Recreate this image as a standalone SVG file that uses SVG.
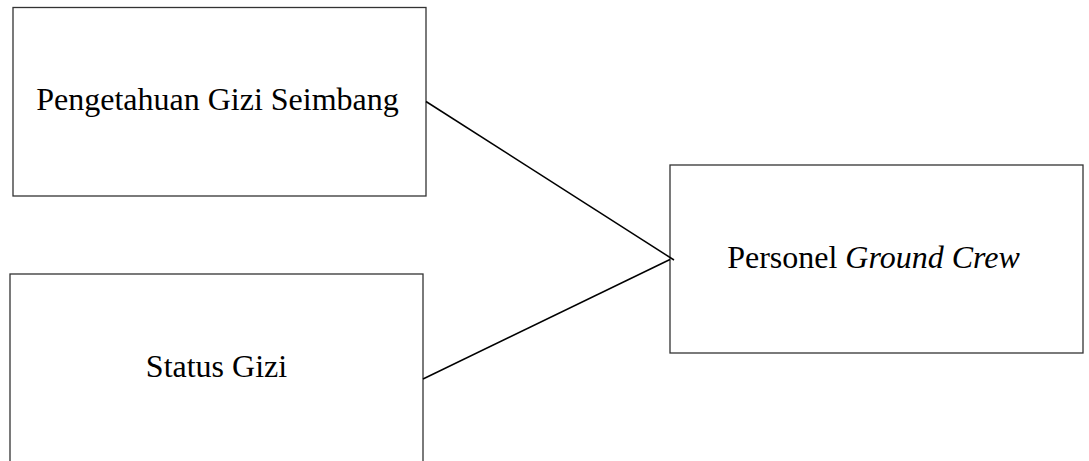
<svg xmlns="http://www.w3.org/2000/svg" width="1089" height="461" viewBox="0 0 1089 461">
<style>
.box{fill:#fff;stroke:#333;stroke-width:1.3}
.lbl{font-family:"Liberation Serif","Times New Roman",serif;font-size:32px;fill:#000;text-anchor:middle}
.conn{stroke:#000;stroke-width:1.5;fill:none}
</style>
<rect width="1089" height="461" fill="#fff"/>
<g id="node-pengetahuan">
<rect class="box" x="13" y="7.5" width="413" height="188.5"/>
<text class="lbl" x="217.5" y="109.5">Pengetahuan Gizi Seimbang</text>
</g>
<g id="node-status">
<rect class="box" x="10" y="274" width="413" height="190"/>
<text class="lbl" x="216.5" y="376.5">Status Gizi</text>
</g>
<g id="node-personel">
<rect class="box" x="670" y="165" width="413" height="188"/>
<text class="lbl" x="873.5" y="268" font-size="31">Personel <tspan font-style="italic">Ground Crew</tspan></text>
</g>
<g id="connectors">
<line class="conn" x1="426" y1="101.5" x2="674" y2="260"/>
<line class="conn" x1="423" y1="379" x2="670" y2="259.5"/>
</g>
</svg>
